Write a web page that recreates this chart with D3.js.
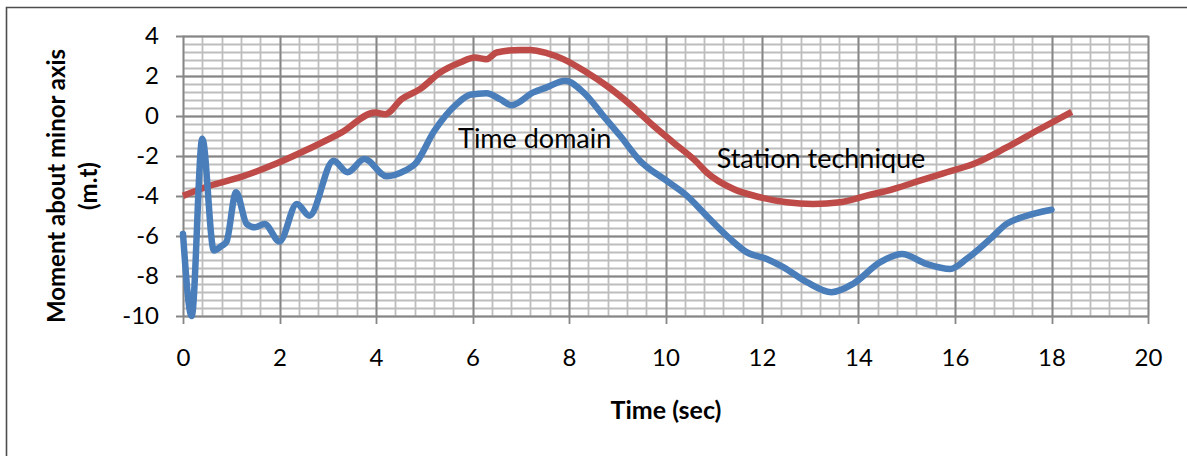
<!DOCTYPE html>
<html>
<head>
<meta charset="utf-8">
<script src="https://cdn.jsdelivr.net/npm/d3@7"></script>
<style>
  html, body { margin: 0; padding: 0; background: #fff; }
  svg { display: block; font-family: Lato, "Open Sans", sans-serif; }
</style>
</head>
<body>
<svg id="chart" width="1187" height="456"></svg>
<script>
// ---- data ----
const timeDomainT = [0, 0.18, 0.40, 0.64, 0.80, 0.90, 1.10, 1.32, 1.49, 1.69, 2.0, 2.36, 2.62, 3.12, 3.41, 3.76, 4.22, 4.60, 4.81, 5.21, 5.67, 5.95, 6.29, 6.57, 6.81, 7.26, 7.54, 7.92, 8.30, 8.71, 9.06, 9.47, 10.02, 10.44, 10.85, 11.34, 11.68, 12.10, 12.44, 12.93, 13.44, 13.89, 14.45, 14.90, 15.41, 15.90, 16.24, 16.73, 17.07, 17.42, 18.0];
const timeDomainV = [-5.9, -10, -1.15, -6.73, -6.5, -6.3, -3.82, -5.4, -5.57, -5.4, -6.28, -4.4, -4.99, -2.24, -2.82, -2.16, -3.02, -2.74, -2.41, -0.75, 0.58, 1.05, 1.13, 0.83, 0.53, 1.17, 1.42, 1.75, 1.17, 0.0, -1.0, -2.24, -3.24, -3.99, -4.99, -6.15, -6.81, -7.15, -7.56, -8.31, -8.81, -8.39, -7.31, -6.9, -7.4, -7.65, -7.15, -6.15, -5.4, -5.04, -4.69];

const stationT = [0, 0.52, 1.22, 1.91, 2.60, 3.29, 3.98, 4.19, 4.53, 4.91, 5.33, 5.74, 6.05, 6.29, 6.50, 6.98, 7.19, 7.54, 7.88, 8.37, 8.78, 9.26, 9.75, 10.16, 10.65, 10.85, 11.41, 11.96, 12.51, 13.06, 13.62, 14.17, 14.72, 15.27, 15.83, 16.38, 17.07, 17.76, 18.42];
const stationV = [-4.0, -3.52, -3.04, -2.41, -1.66, -0.83, 0.17, 0.08, 0.83, 1.33, 2.16, 2.66, 2.91, 2.83, 3.16, 3.29, 3.29, 3.13, 2.83, 2.16, 1.5, 0.58, -0.5, -1.33, -2.32, -2.82, -3.66, -4.07, -4.32, -4.40, -4.32, -3.99, -3.66, -3.24, -2.82, -2.41, -1.58, -0.66, 0.2];

const xTicks = [0, 2, 4, 6, 8, 10, 12, 14, 16, 18, 20];
const yTicks = [4, 2, 0, -2, -4, -6, -8, -10];
const seriesNames = ["Time domain", "Station technique"];
const labelPos = [[5.70, -1.61], [11.06, -2.62]];
const xTitle = "Time (sec)";
const yTitleLines = ["Moment about minor axis", "(m.t)"];

// ---- layout ----
const svg = d3.select("#chart");
const x = d3.scaleLinear().domain([0, 20]).range([183, 1148]);
const y = d3.scaleLinear().domain([-10, 4]).range([316, 35.7]);
const fmt = d => String(d);

// outer border
svg.append("path")
  .attr("d", "M6.5,456 L6.5,7.5 L1187,7.5")
  .attr("fill", "none").attr("stroke", "#4d4d4d").attr("stroke-width", 1.6);

// minor gridlines
const minorX = d3.range(0, 20.0001, 0.4);
const minorY = d3.range(-10, 4.0001, 0.4);
const grid = svg.append("g");
grid.selectAll("line.mx").data(minorX).join("line")
  .attr("x1", d => Math.round(x(d)) + 0.5).attr("x2", d => Math.round(x(d)) + 0.5)
  .attr("y1", y(4)).attr("y2", y(-10))
  .attr("stroke", "#bdbdbd").attr("stroke-width", 1.8);
grid.selectAll("line.my").data(minorY).join("line")
  .attr("y1", d => Math.round(y(d)) + 0.5).attr("y2", d => Math.round(y(d)) + 0.5)
  .attr("x1", x(0)).attr("x2", x(20))
  .attr("stroke", "#bdbdbd").attr("stroke-width", 1.8);
// major gridlines
grid.selectAll("line.Mx").data(xTicks).join("line")
  .attr("x1", d => Math.round(x(d)) + 0.5).attr("x2", d => Math.round(x(d)) + 0.5)
  .attr("y1", y(4)).attr("y2", y(-10) + 8)
  .attr("stroke", "#868686").attr("stroke-width", 1.8);
grid.selectAll("line.My").data(yTicks).join("line")
  .attr("y1", d => Math.round(y(d)) + 0.5).attr("y2", d => Math.round(y(d)) + 0.5)
  .attr("x1", x(0) - 7).attr("x2", x(20))
  .attr("stroke", "#868686").attr("stroke-width", 1.8);

// axes labels via d3 axes (text only)
const xAxis = svg.append("g").attr("transform", `translate(0,${y(-10)})`)
  .call(d3.axisBottom(x).tickValues(xTicks).tickSize(0).tickPadding(33).tickFormat(fmt));
xAxis.select(".domain").remove();
xAxis.selectAll("text").attr("font-size", 24).attr("font-family", "Lato").attr("fill", "#000");

const yAxis = svg.append("g").attr("transform", `translate(${x(0)},0)`)
  .call(d3.axisLeft(y).tickValues(yTicks).tickSize(0).tickPadding(24).tickFormat(fmt));
yAxis.select(".domain").remove();
yAxis.selectAll("text").attr("font-size", 24).attr("font-family", "Lato").attr("fill", "#000");

// series
const line = d3.line().x(d => x(d[0])).y(d => y(d[1])).curve(d3.curveMonotoneX);
const tdData = d3.zip(timeDomainT, timeDomainV);
const stData = d3.zip(stationT, stationV);
svg.append("path").datum(stData).attr("d", line)
  .attr("fill", "none").attr("stroke", "#be4b48").attr("stroke-width", 6.5)
  .attr("stroke-linejoin", "round");
svg.append("path").datum(tdData).attr("d", line)
  .attr("fill", "none").attr("stroke", "#4a7ebb").attr("stroke-width", 6.5)
  .attr("stroke-linejoin", "round").attr("stroke-linecap", "round");

// series annotations
svg.selectAll("text.lbl").data(seriesNames).join("text")
  .attr("x", (d, i) => x(labelPos[i][0])).attr("y", (d, i) => y(labelPos[i][1]))
  .attr("font-size", 27).attr("fill", "#000").text(d => d);

// axis titles
svg.append("text").attr("x", 666).attr("y", 419).attr("text-anchor", "middle")
  .attr("font-size", 25).attr("font-weight", "bold").text(xTitle);
svg.append("g").attr("transform", "translate(65,186) rotate(-90)")
  .selectAll("text").data(yTitleLines).join("text")
  .attr("x", 0).attr("y", (d, i) => i * 32).attr("text-anchor", "middle")
  .attr("font-size", 24).attr("font-weight", "bold").text(d => d);
</script>
</body>
</html>
